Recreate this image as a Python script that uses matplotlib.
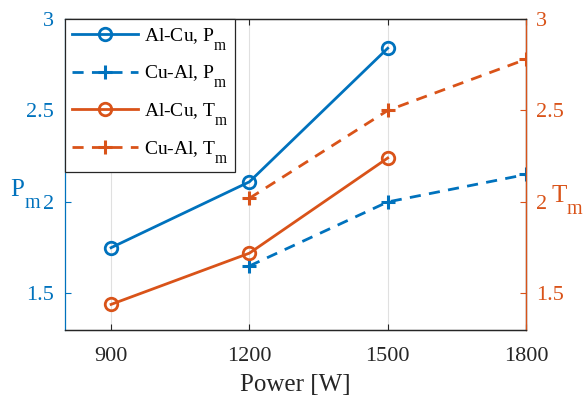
import matplotlib
matplotlib.use("Agg")
from matplotlib import pyplot as plt

# MATLAB-like subscripts: bigger and lower than matplotlib's defaults
try:
    from matplotlib import _mathtext
    _mathtext.SHRINK_FACTOR = 0.8
    _mathtext.FontConstantsBase.sub1 = 1.0
except Exception:
    pass

power = [900, 1200, 1500, 1800]
alcu_x = [900, 1200, 1500]
cual_x = [1200, 1500, 1800]
alcu_pm = [1.75, 2.11, 2.84]
cual_pm = [1.65, 2.00, 2.15]
alcu_tm = [1.44, 1.72, 2.24]
cual_tm = [2.02, 2.50, 2.78]
yticks = [1.5, 2, 2.5, 3]
ytick_labels = ["1.5", "2", "2.5", "3"]
labels = [r"Al-Cu, $\mathrm{P_m}$", r"Cu-Al, $\mathrm{P_m}$",
          r"Al-Cu, $\mathrm{T_m}$", r"Cu-Al, $\mathrm{T_m}$"]

blue = "#0072BD"
orange = "#D95319"
dark = "#262626"

plt.rcParams["font.family"] = "Liberation Serif"
plt.rcParams["mathtext.fontset"] = "custom"
plt.rcParams["mathtext.rm"] = "Liberation Serif"
plt.rcParams["mathtext.it"] = "Liberation Serif"

fig = plt.figure(figsize=(5.87, 3.99), dpi=100)
ax = fig.add_axes([65/587, 1 - 330/399, 461/587, 311/399])
ax2 = ax.twinx()

l1, = ax.plot(alcu_x, alcu_pm, "-o", color=blue, lw=2, ms=9, mfc="none", mew=2)
l2, = ax.plot(cual_x, cual_pm, "--+", color=blue, lw=2, ms=10, mew=2.2, dashes=(4, 3))
l3, = ax2.plot(alcu_x, alcu_tm, "-o", color=orange, lw=2, ms=9, mfc="none", mew=2)
l4, = ax2.plot(cual_x, cual_tm, "--+", color=orange, lw=2, ms=10, mew=2.2, dashes=(4, 3))

for a in (ax, ax2):
    a.set_xlim(800, 1800)
    a.set_ylim(1.3, 3)
    a.set_yticks(yticks)
    a.set_yticklabels(ytick_labels)

ax.set_xticks(power)
ax.set_xticklabels([str(p) for p in power])
ax.grid(axis="x", color="#e0e0e0", lw=0.8)
ax.set_axisbelow(True)

ax.tick_params(axis="x", direction="in", length=4, top=True, colors=dark, labelsize=16, pad=12, width=0.8)
ax.tick_params(axis="y", direction="in", length=4, colors=blue, labelsize=16, pad=8)
ax2.tick_params(axis="y", direction="in", length=4, colors=orange, labelsize=16, pad=7)

ax.spines["left"].set_color(blue)
ax2.spines["left"].set_visible(False)
ax2.spines["right"].set_color(orange)
for a in (ax, ax2):
    a.spines["top"].set_color(dark)
    a.spines["bottom"].set_color(dark)
    for s in a.spines.values():
        s.set_linewidth(0.9)

ax.set_xlabel("Power [W]", fontsize=18, color=dark, labelpad=6)
ax.set_ylabel(r"$\mathrm{P_m}$", fontsize=18, color=blue, rotation=0, ha="center", va="center")
ax.yaxis.set_label_coords(-0.085, 0.44)
ax2.set_ylabel(r"$\mathrm{T_m}$", fontsize=18, color=orange, rotation=0, ha="center", va="center")
ax2.yaxis.set_label_coords(1.09, 0.42)

leg = ax2.legend([l1, l2, l3, l4], labels,
                 loc="upper left", bbox_to_anchor=(0, 1), borderaxespad=0,
                 fontsize=14, handlelength=3.4, handletextpad=0.3, fancybox=False,
                 framealpha=1, edgecolor=dark, labelspacing=0.6, borderpad=0.35)
leg.get_frame().set_linewidth(0.9)

fig.savefig("out.png", dpi=100)
